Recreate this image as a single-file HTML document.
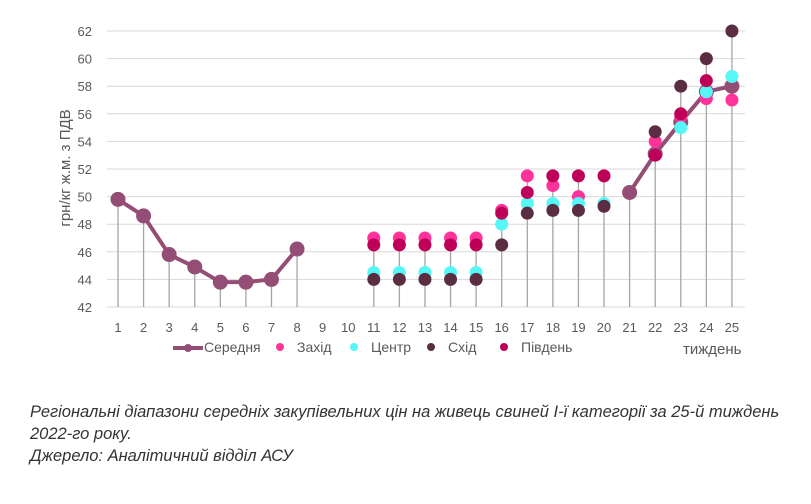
<!DOCTYPE html>
<html><head><meta charset="utf-8"><style>
body{margin:0;background:#fff;width:811px;height:504px;overflow:hidden;font-family:"Liberation Sans",sans-serif}
.cap{position:absolute;left:30px;font-style:italic;font-size:16.5px;color:#333;line-height:22px;white-space:nowrap}
</style></head><body>
<svg id="s" width="811" height="504" style="position:absolute;left:0;top:0" font-family="Liberation Sans, sans-serif"></svg>
<div class="cap" style="top:401px">Регіональні діапазони середніх закупівельних цін на живець свиней I-ї категорії за 25-й тиждень<br>2022-го року.<br>Джерело: Аналітичний відділ АСУ</div>
<script>
const X=i=>118+(i-1)*25.58, Y=v=>307-(v-42)*13.8;
let h='';
for(let v=42;v<=62;v+=2){h+=`<line x1="107" x2="745" y1="${Y(v)}" y2="${Y(v)}" stroke="#d9d9d9" stroke-width="1"/>`;
h+=`<text x="92" y="${Y(v)+5}" font-size="13" fill="#595959" text-anchor="end">${v}</text>`;}
for(let i=1;i<=25;i++)h+=`<text x="${X(i)}" y="332" font-size="13" fill="#595959" text-anchor="middle">${i}</text>`;
const avg={1:49.8,2:48.6,3:45.8,4:44.9,5:43.8,6:43.8,7:44,8:46.2,21:50.3,22:53.1,23:55.4,24:57.6,25:58};
const zah={11:47,12:47,13:47,14:47,15:47,16:49,17:51.5,18:50.8,19:50,22:54,23:55.8,24:57.1,25:57};
const cen={11:44.5,12:44.5,13:44.5,14:44.5,15:44.5,16:48,17:49.5,18:49.5,19:49.5,20:49.5,23:55,24:57.6,25:58.7};
const skh={11:44,12:44,13:44,14:44,15:44,16:46.5,17:48.8,18:49,19:49,20:49.3,22:54.7,23:58,24:60,25:62};
const piv={11:46.5,12:46.5,13:46.5,14:46.5,15:46.5,16:48.8,17:50.3,18:51.5,19:51.5,20:51.5,22:53,23:56,24:58.4};
for(let i=1;i<=25;i++){let m=-1;[avg,zah,cen,skh,piv].forEach(s=>{if(s[i]!=null)m=Math.max(m,s[i])});
if(m>0)h+=`<line x1="${X(i)}" x2="${X(i)}" y1="${Y(m)}" y2="307" stroke="#a6a6a6" stroke-width="1.3"/>`;}
const seg=(a)=>a.map(i=>X(i)+','+Y(avg[i])).join(' ');
h+=`<polyline points="${seg([1,2,3,4,5,6,7,8])}" fill="none" stroke="#944d74" stroke-width="4"/>`;
h+=`<polyline points="${seg([21,22,23,24,25])}" fill="none" stroke="#944d74" stroke-width="4"/>`;
for(const i in avg)h+=`<circle cx="${X(+i)}" cy="${Y(avg[i])}" r="7.5" fill="#944d74"/>`;
[[zah,'#ff3399'],[cen,'#55f7f7'],[skh,'#5a2d42'],[piv,'#bf0059']].forEach(([s,c])=>{for(const i in s)h+=`<circle cx="${X(+i)}" cy="${Y(s[i])}" r="6.5" fill="${c}"/>`});
h+=`<line x1="173" x2="203" y1="348" y2="348" stroke="#944d74" stroke-width="4"/><circle cx="188" cy="348" r="4" fill="#944d74"/>`;
h+=`<text x="204" y="352" font-size="14" fill="#595959">Середня</text>`;
[[280,'#ff3399','Захід'],[354,'#55f7f7','Центр'],[431,'#5a2d42','Схід'],[504,'#bf0059','Південь']].forEach(([x,c,t])=>{
h+=`<circle cx="${x}" cy="347" r="4" fill="${c}"/><text x="${x+17}" y="352" font-size="14" fill="#595959">${t}</text>`});
h+=`<text x="683" y="354" font-size="15" fill="#595959">тиждень</text>`;
h+=`<text transform="translate(70,168) rotate(-90)" font-size="15" fill="#595959" text-anchor="middle">грн/кг ж.м. з ПДВ</text>`;
document.getElementById('s').innerHTML=h;
</script>
</body></html>
